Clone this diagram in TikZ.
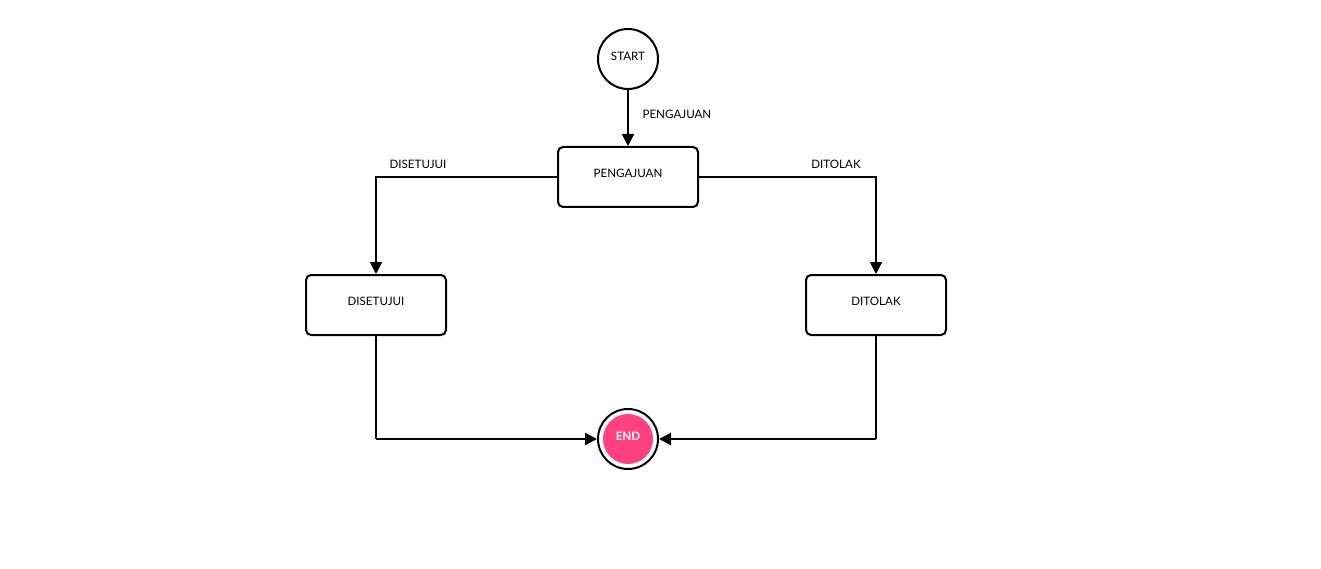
\documentclass[tikz,border=0pt]{standalone}
\usepackage{fontspec}
\setmainfont{Lato}
\usetikzlibrary{arrows.meta}
\definecolor{endpink}{HTML}{FF4081}
\tikzset{
  statebox/.style={draw, line width=2pt, rounded corners=5pt, minimum width=140pt, minimum height=60pt, inner sep=0pt},
  startnode/.style={draw, circle, line width=2pt, minimum size=60pt, inner sep=0pt},
  flow/.style={line width=2pt, -{Triangle[length=12pt,width=12pt]}},
  lbl/.style={font=\fontsize{11.6}{14}\selectfont}
}
\begin{document}
\begin{tikzpicture}[x=1pt,y=-1pt]
\useasboundingbox (0,0) rectangle (1321,569);
% states
\node[startnode] (start) at (628,59) {};
\node[lbl] at (628,56) {START};
\node[statebox] (peng) at (628,177) {};
\node[lbl] at (628,173) {PENGAJUAN};
\node[statebox] (setuju) at (376,305) {};
\node[lbl] at (376,301) {DISETUJUI};
\node[statebox] (tolak) at (876,305) {};
\node[lbl] at (876,301) {DITOLAK};
% final state
\node[draw, circle, line width=2pt, minimum size=60pt, inner sep=0pt] (end) at (628,439) {};
\node[circle, fill=endpink, minimum size=50pt, inner sep=0pt] (endin) at (628,439) {};
\node[font=\fontsize{11.6}{14}\selectfont\bfseries, text=white] at (628,436) {END};
% transitions
\draw[flow] (start) -- (peng);
\node[lbl, anchor=west] at (639,114) {PENGAJUAN};
\draw[flow] (peng.west) -| (setuju.north);
\node[lbl] at (418,164) {DISETUJUI};
\draw[flow] (peng.east) -| (tolak.north);
\node[lbl] at (836,164) {DITOLAK};
\coordinate (lc) at (376,439);
\coordinate (rc) at (876,439);
\draw[line width=2pt] (setuju.south) -- (lc);
\draw[flow] (lc) -- (end.west);
\draw[line width=2pt] (tolak.south) -- (rc);
\draw[flow] (rc) -- (end.east);
\end{tikzpicture}
\end{document}
